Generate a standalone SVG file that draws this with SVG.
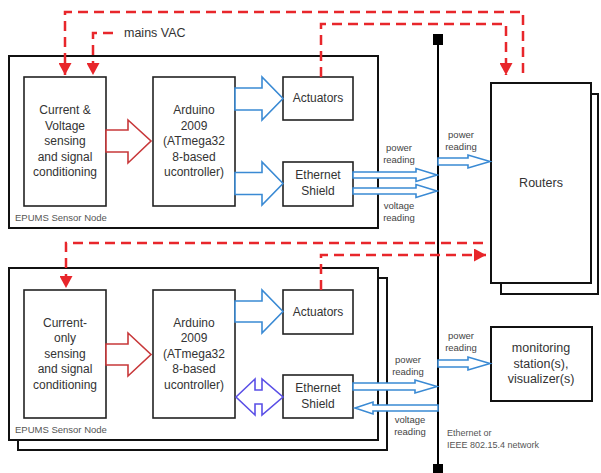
<svg xmlns="http://www.w3.org/2000/svg" width="601" height="473" viewBox="0 0 601 473">
<style>
.box{fill:#fff;stroke:#222;stroke-width:1.6}
.outer{fill:#fff;stroke:#111;stroke-width:2}
.t{font-family:"Liberation Sans",Arial,sans-serif;font-size:12px;fill:#333;text-anchor:middle}
.s{font-family:"Liberation Sans",Arial,sans-serif;font-size:9.5px;fill:#444;text-anchor:middle}
.lbl{font-family:"Liberation Sans",Arial,sans-serif;font-size:9.5px;fill:#555}
.red{fill:#fff;stroke:#c8383a;stroke-width:1.6}
.blue{fill:#fff;stroke:#3a8ad4;stroke-width:1.6}
.purple{fill:#fff;stroke:#5a4fe6;stroke-width:1.6}
.dash{fill:none;stroke:#e8262b;stroke-width:2.5;stroke-dasharray:10 6}
</style>
<defs>
<marker id="ah" viewBox="0 0 12 13" refX="12" refY="6.5" markerWidth="12" markerHeight="13" markerUnits="userSpaceOnUse" orient="auto">
<path d="M0,0 L12,6.5 L0,13 Z" fill="#e8262b"/>
</marker>
</defs>

<!-- Top sensor node -->
<g id="node-top">
<rect class="outer" x="9" y="56" width="369" height="172"/>
<text class="lbl" x="15" y="221">EPUMS Sensor Node</text>
</g>
<g id="cv-sensing">
<rect class="box" x="24" y="77" width="82" height="129"/>
<text class="t" x="65" y="114">Current &amp;</text>
<text class="t" x="65" y="130">Voltage</text>
<text class="t" x="65" y="145">sensing</text>
<text class="t" x="65" y="161">and signal</text>
<text class="t" x="65" y="176">conditioning</text>
</g>
<g id="arduino-top">
<rect class="box" x="153" y="77" width="82" height="129"/>
<text class="t" x="194" y="114">Arduino</text>
<text class="t" x="194" y="130">2009</text>
<text class="t" x="194" y="145">(ATmega32</text>
<text class="t" x="194" y="161">8-based</text>
<text class="t" x="194" y="176">ucontroller)</text>
</g>
<g id="actuators-top">
<rect class="box" x="283" y="77" width="70" height="43"/>
<text class="t" x="318" y="102">Actuators</text>
</g>
<g id="ethernet-top">
<rect class="box" x="283" y="162" width="70" height="44"/>
<text class="t" x="318" y="179">Ethernet</text>
<text class="t" x="318" y="195">Shield</text>
</g>

<!-- Bottom sensor node -->
<g id="node-bottom">
<rect class="outer" x="18" y="278" width="369" height="172"/>
<rect class="outer" x="9" y="268" width="369" height="172"/>
<text class="lbl" x="15" y="433">EPUMS Sensor Node</text>
</g>
<g id="c-sensing">
<rect class="box" x="24" y="290" width="82" height="128"/>
<text class="t" x="65" y="327">Current-</text>
<text class="t" x="65" y="342">only</text>
<text class="t" x="65" y="358">sensing</text>
<text class="t" x="65" y="373">and signal</text>
<text class="t" x="65" y="389">conditioning</text>
</g>
<g id="arduino-bottom">
<rect class="box" x="153" y="290" width="82" height="128"/>
<text class="t" x="194" y="327">Arduino</text>
<text class="t" x="194" y="342">2009</text>
<text class="t" x="194" y="358">(ATmega32</text>
<text class="t" x="194" y="373">8-based</text>
<text class="t" x="194" y="389">ucontroller)</text>
</g>
<g id="actuators-bottom">
<rect class="box" x="283" y="290" width="70" height="44"/>
<text class="t" x="318" y="316">Actuators</text>
</g>
<g id="ethernet-bottom">
<rect class="box" x="283" y="375" width="70" height="43"/>
<text class="t" x="318" y="392">Ethernet</text>
<text class="t" x="318" y="408">Shield</text>
</g>

<!-- Routers -->
<g id="routers">
<rect class="outer" x="501" y="94" width="97" height="200"/>
<rect class="outer" x="491" y="83" width="100" height="200"/>
<text class="t" x="541" y="187" style="font-size:12.5px">Routers</text>
</g>

<!-- Monitoring -->
<g id="monitoring">
<rect class="outer" x="491" y="327" width="101" height="74"/>
<text class="t" x="541" y="352" style="font-size:12.5px">monitoring</text>
<text class="t" x="541" y="368" style="font-size:12.5px">station(s),</text>
<text class="t" x="541" y="383" style="font-size:12.5px">visualizer(s)</text>
</g>

<!-- Network bus -->
<g id="bus">
<line x1="438" y1="44" x2="438" y2="473" stroke="#000" stroke-width="2"/>
<rect x="433" y="34" width="10" height="11" fill="#000"/>
<rect x="433" y="464" width="10" height="10" fill="#000"/>
<text class="lbl" x="447" y="436" style="font-size:9px">Ethernet or</text>
<text class="lbl" x="447" y="448" style="font-size:9px">IEEE 802.15.4 network</text>
</g>

<g id="connectors">
<!-- red dashed power lines -->
<polyline class="dash" points="523,73 523,12 65,12 65,75" marker-end="url(#ah)"/>
<polyline class="dash" points="113,33 93,33 93,75" marker-end="url(#ah)"/>
<text class="t" x="124" y="37" style="text-anchor:start;font-size:12.5px">mains VAC</text>
<polyline class="dash" points="321,77 321,24 506,24 506,75" marker-end="url(#ah)"/>
<polyline class="dash" points="483,243 66,243 66,288" marker-end="url(#ah)"/>
<polyline class="dash" points="321,290 321,255 486,255" marker-end="url(#ah)"/>

<!-- hollow arrows top node -->
<polygon class="red" points="106,130 128,130 128,120 151,141 128,163 128,152 106,152"/>
<polygon class="blue" points="235,88 262,88 262,77 283,98.5 262,120 262,110 235,110"/>
<polygon class="blue" points="235,172.5 262,172.5 262,162 283,183.5 262,205 262,194.5 235,194.5"/>

<!-- hollow arrows bottom node -->
<polygon class="red" points="106,344 128,344 128,333 151,354.5 128,376 128,365 106,365"/>
<polygon class="blue" points="235,301 262,301 262,290 283,311.5 262,333 262,322 235,322"/>
<polygon class="purple" points="236,397 255,379 255,390 262,390 262,379 283,397 262,415 262,404 255,404 255,415"/>

<!-- to bus, top -->
<polygon class="blue" points="353,172 416,172 416,168.5 437,175 416,181.5 416,178 353,178"/>
<polygon class="blue" points="353,188 416,188 416,184.5 437,191 416,197.5 416,194 353,194"/>
<polygon class="blue" points="438,158 468,158 468,155 490,161.5 468,168 468,165 438,165"/>
<text class="s" x="399" y="151">power</text>
<text class="s" x="399" y="163">reading</text>
<text class="s" x="399" y="209">voltage</text>
<text class="s" x="399" y="221">reading</text>
<text class="s" x="461" y="138">power</text>
<text class="s" x="461" y="150">reading</text>

<!-- to bus, bottom -->
<polygon class="blue" points="353,383 415,383 415,380 437,386.5 415,393 415,390 353,390"/>
<polygon class="blue" points="438,405 373,405 373,402 355,408 373,414 373,411 438,411"/>
<polygon class="blue" points="438,360 468,360 468,357 490,363.5 468,370 468,367 438,367"/>
<text class="s" x="408" y="363">power</text>
<text class="s" x="408" y="375">reading</text>
<text class="s" x="410" y="423">voltage</text>
<text class="s" x="410" y="435">reading</text>
<text class="s" x="461" y="339">power</text>
<text class="s" x="461" y="351">reading</text>
</g>
</svg>
